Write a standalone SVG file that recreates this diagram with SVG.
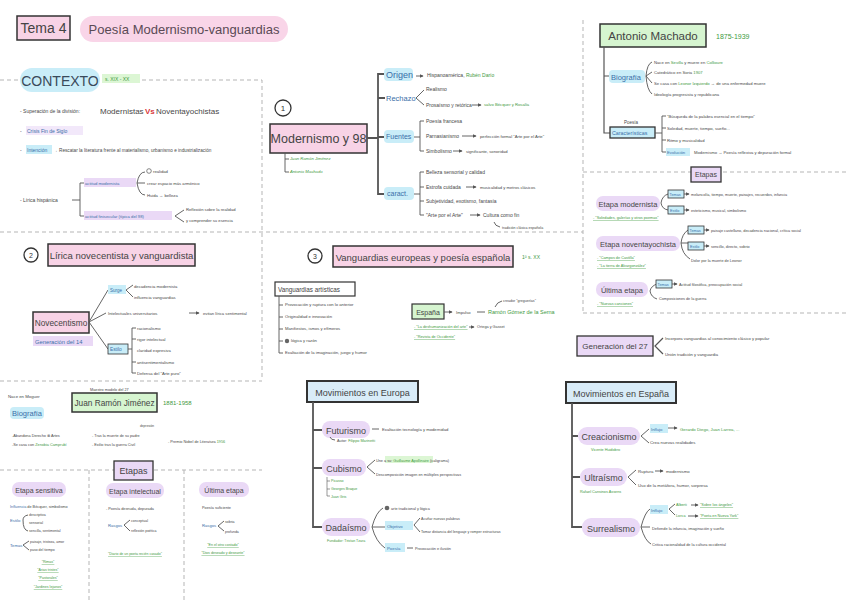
<svg xmlns="http://www.w3.org/2000/svg" width="848" height="601" viewBox="0 0 848 601">
<defs>
<style>
text{font-family:"Liberation Sans",Arial,sans-serif;fill:#474747}
.s{font-size:5px}
.xs{font-size:4.2px}
.g{fill:#3f9a3f}
.gi{fill:#3f9a3f;font-style:italic}
.u{text-decoration:underline}
.b{fill:#3a6fa8}
.dash{fill:none;stroke:#b5b5b5;stroke-width:1;stroke-dasharray:4 3}
.ln{fill:none;stroke:#555;stroke-width:0.9}
.lnb{fill:none;stroke:#555;stroke-width:1.8}
.pink{fill:#f8d3e6;stroke:#333;stroke-width:1.5}
.pill{fill:#f9d5e8}
.pur{fill:#ead9f6}
.purb{fill:#ead9f6;stroke:#333;stroke-width:1.3}
.cy{fill:#c9edf8}
.cyb{fill:#c9edf8;stroke:#333;stroke-width:0.8}
.grn{fill:#d6f5d0;stroke:#333;stroke-width:1.5}
.gh{fill:#dcf6d4}
.blu{fill:#d9ecf8;stroke:#333;stroke-width:2}
.circ{fill:#fff;stroke:#333;stroke-width:1.3}
</style>
<marker id="ar" viewBox="0 0 6 6" refX="5" refY="3" markerWidth="4" markerHeight="4" orient="auto"><path d="M0 0 L6 3 L0 6 z" fill="#555"/></marker>
</defs>

<!-- dashed section borders -->
<g id="borders">
<path class="dash" d="M0 80 H18 M142 80 H262 V380"/>
<path class="dash" d="M0 232 H583"/>
<path class="dash" d="M0 381 H262"/>
<path class="dash" d="M583 20 V313 M583 172 H848 M583 313 H848"/>
<path class="dash" d="M0 470 H262 M89 470 V601 M184 470 V601"/>
</g>

<!-- title -->
<g id="title">
<rect class="pink" x="17" y="16" width="53" height="24"/>
<text x="43.5" y="33" font-size="14" text-anchor="middle" style="fill:#444">Tema 4</text>
<rect class="pill" x="80" y="16" width="208" height="26" rx="13"/>
<text x="184" y="34" font-size="13" text-anchor="middle" style="fill:#5a4a55">Poesía Modernismo-vanguardias</text>
</g>

<!-- contexto -->
<g id="contexto">
<rect class="cy" x="20" y="68" width="80" height="24" rx="12"/>
<text x="60" y="86" font-size="14" text-anchor="middle" style="fill:#3a4a5a">CONTEXTO</text>
<rect class="gh" x="102" y="74" width="38" height="9"/>
<text x="105" y="81" class="s g">s. XIX - XX</text>
<text x="20" y="113" class="s">- Superación de la división:</text>
<text x="100" y="114" font-size="8">Modernistas</text>
<text x="145" y="114" font-size="8" font-weight="bold" style="fill:#d9383a">Vs</text>
<text x="156" y="114" font-size="8">Noventayochistas</text>
<text x="20" y="133" class="s">-</text>
<rect class="pur" x="26" y="126" width="57" height="9" opacity="0.6"/>
<text x="27" y="133" class="s b">Crisis Fin de Siglo</text>
<text x="20" y="152" class="s">-</text>
<rect class="cy" x="26" y="145" width="26" height="9"/>
<text x="27" y="152" class="s b">Intención</text>
<text x="53" y="152" font-size="4.7">→ Rescatar la literatura frente al materialismo, urbanismo e industrialización</text>
<text x="20" y="202" class="s">- Lírica hispánica</text>
<path class="ln" d="M72 200 H80 M84 183 H80 V216 H84"/>
<rect class="pur" x="84" y="178" width="52" height="9"/>
<text x="85" y="185" class="xs b">actitud modernista</text>
<path class="ln" d="M145 172 Q139 172 137 183 Q139 195 145 195 M137 183 H145"/>
<circle cx="149" cy="171" r="2.3" fill="none" stroke="#555" stroke-width="0.7"/>
<text x="153" y="173" class="xs">realidad</text>
<text x="147" y="185" class="xs">crear espacio más armónico</text>
<text x="147" y="197" class="xs">Huida → belleza</text>
<rect class="pur" x="84" y="211" width="88" height="9"/>
<text x="85" y="218" class="xs b">actitud finisecular (típica del 98)</text>
<path class="ln" d="M184 210 L175 216 L184 222"/>
<text x="186" y="211" class="xs">Reflexión sobre la realidad</text>
<text x="186" y="222" class="xs">y comprender su esencia</text>
</g>

<!-- section 1 -->
<g id="modernismo98">
<circle class="circ" cx="283" cy="108" r="8"/>
<text x="283" y="111" font-size="8" text-anchor="middle" style="fill:#333">1</text>
<rect class="pink" x="270" y="124" width="97" height="29"/>
<text x="318.5" y="143" font-size="12.5" text-anchor="middle" style="fill:#444">Modernismo y 98</text>
<path class="ln" d="M285 153 V172 H289 M285 159 H289"/>
<text x="290" y="160" class="xs gi">Juan Ramón Jiménez</text>
<text x="290" y="173" class="xs gi">Antonio Machado</text>
<path class="lnb" d="M367 138 H378 M385 74 H378 V194 H385 M378 98 H385 M378 137 H385"/>

<rect class="cy" x="384" y="68" width="29" height="13" rx="4"/>
<text x="386" y="78" font-size="9" class="b">Origen</text>
<path class="ln" d="M416 76 H423" marker-end="url(#ar)"/>
<text x="427" y="77" class="s">Hispanoamérica, <tspan class="g">Rubén Darío</tspan></text>

<text x="386" y="101" font-size="7.5" class="b">Rechazo</text>
<path class="ln" d="M424 90 L416 98 L424 105"/>
<text x="426" y="91" class="s">Realismo</text>
<text x="426" y="107" class="s">Prosaísmo y retórica</text>
<path class="ln" d="M472 105 H481" marker-end="url(#ar)"/>
<text x="484" y="106" class="xs g">salvo Bécquer y Rosalía</text>

<rect class="cy" x="384" y="130" width="30" height="13" rx="4"/>
<text x="386" y="139" font-size="7" class="b">Fuentes</text>
<path class="ln" d="M414 137 H420 M424 121 H420 V151 H424"/>
<text x="426" y="123" class="s">Poesía francesa</text>
<text x="426" y="138" class="s">Parnasianismo</text>
<path class="ln" d="M462 136 H476" marker-end="url(#ar)"/>
<text x="480" y="138" class="xs">perfección formal "Arte por el Arte"</text>
<text x="426" y="153" class="s">Simbolismo</text>
<path class="ln" d="M453 151 H462" marker-end="url(#ar)"/>
<text x="466" y="153" class="xs">significante, sonoridad</text>

<rect class="cy" x="384" y="187" width="30" height="13" rx="4"/>
<text x="387" y="196" font-size="7" class="b">caract.</text>
<path class="ln" d="M414 194 H420 M424 172 H420 V215 H424 M420 187 H424 M420 201 H424"/>
<text x="426" y="174" class="s">Belleza sensorial y calidad</text>
<text x="426" y="189" class="s">Estrofa cuidada</text>
<path class="ln" d="M466 187 H476" marker-end="url(#ar)"/>
<text x="480" y="189" class="xs">musicalidad y metros clásicos</text>
<text x="426" y="203" class="s">Subjetividad, exotismo, fantasía</text>
<text x="426" y="217" class="s">"Arte por el Arte"</text>
<path class="ln" d="M470 215 H480" marker-end="url(#ar)"/>
<text x="483" y="217" class="s">Cultura como fin</text>
<path class="ln" d="M494 222 Q495 226 500 227"/>
<text x="502" y="229" font-size="3.6">tradición clásica española</text>
</g>

<!-- Antonio Machado -->
<g id="machado">
<rect class="grn" x="600" y="24" width="106" height="23"/>
<text x="653" y="40" font-size="11.5" text-anchor="middle" style="fill:#444">Antonio Machado</text>
<text x="716" y="39" font-size="7" class="g">1875-1939</text>
<path class="lnb" style="stroke-width:1.2" d="M604 47 V133 H610 M604 76 H609"/>
<rect class="cy" x="609" y="70" width="36" height="13" rx="4"/>
<text x="611" y="80" font-size="7.5" class="b">Biografía</text>
<path class="ln" d="M652 62 Q647 64 646 76 Q647 90 652 94 M646 76 L652 72 M646 76 L652 83"/>
<text x="654" y="64" class="xs">Nace en <tspan class="g">Sevilla</tspan> y muere en <tspan class="g">Collioure</tspan></text>
<text x="654" y="74" class="xs">Catedrático en Soria <tspan class="g">1907</tspan></text>
<text x="654" y="85" class="xs">Se casa con <tspan class="g">Leonor Izquierdo</tspan> → de una enfermedad muere</text>
<text x="654" y="96" class="xs">Ideología progresista y republicana</text>
<text x="624" y="124" font-size="4.5">Poesía</text>
<rect class="cyb" x="610" y="127" width="45" height="11" style="stroke-width:1.3"/>
<text x="612" y="135" font-size="5.3" class="b">Características</text>
<path class="ln" d="M655 133 H662 M666 116 H662 V152 H666 M662 128 H666 M662 140 H666"/>
<text x="667" y="118" class="xs">"Búsqueda de la palabra esencial en el tiempo"</text>
<text x="667" y="130" class="xs">Soledad, muerte, tiempo, sueño...</text>
<text x="667" y="142" class="xs">Ritmo y musicalidad</text>
<rect class="cy" x="666" y="148" width="24" height="8"/>
<text x="667" y="154" class="xs b">Evolución</text>
<text x="694" y="154" class="xs">Modernismo → Poesía reflexiva y depuración formal</text>
</g>

<!-- Etapas Machado -->
<g id="etapas-machado">
<rect class="purb" x="691" y="167" width="30" height="15"/>
<text x="706" y="177" font-size="7" text-anchor="middle" style="fill:#444">Etapas</text>

<rect class="pur" x="596" y="196" width="64" height="15" rx="7"/>
<text x="628" y="206.5" font-size="7.5" text-anchor="middle">Etapa modernista</text>
<path class="ln" d="M668 194 Q662 196 661 203 Q662 209 668 210"/>
<rect class="cyb" x="668" y="190" width="16" height="8"/>
<text x="669.5" y="196" font-size="3.8" class="b">Temas</text>
<path class="ln" d="M684 194 H689" marker-end="url(#ar)"/>
<text x="691" y="196" font-size="3.8">melancolía, tiempo, muerte, paisajes, recuerdos, infancia</text>
<rect class="cyb" x="668" y="206" width="16" height="8"/>
<text x="670" y="212" font-size="3.8" class="b">Estilo</text>
<path class="ln" d="M684 210 H689" marker-end="url(#ar)"/>
<text x="691" y="212" font-size="3.8">esteticismo, musical, simbolismo</text>
<text x="593" y="219" font-size="3.8" class="g u">- "Soledades, galerías y otros poemas"</text>

<rect class="pur" x="596" y="236" width="84" height="15" rx="7"/>
<text x="638" y="246.5" font-size="7.5" text-anchor="middle">Etapa noventayochista</text>
<path class="ln" d="M688 230 Q682 234 681 243 Q682 254 690 259 M681 243 H688"/>
<rect class="cyb" x="688" y="226" width="16" height="8"/>
<text x="689.5" y="232" font-size="3.8" class="b">Temas</text>
<path class="ln" d="M704 230 H709" marker-end="url(#ar)"/>
<text x="711" y="232" font-size="3.8">paisaje castellano, decadencia nacional, crítica social</text>
<rect class="cyb" x="688" y="242" width="16" height="8"/>
<text x="690" y="248" font-size="3.8" class="b">Estilo</text>
<path class="ln" d="M704 246 H709" marker-end="url(#ar)"/>
<text x="711" y="248" font-size="3.8">sencillo, directo, sobrio</text>
<text x="691" y="262" font-size="3.8">Dolor por la muerte de Leonor</text>
<text x="597" y="259" font-size="3.8" class="g u">- "Campos de Castilla"</text>
<text x="597" y="267" font-size="3.8" class="g u">- "La tierra de Alvargonzález"</text>

<rect class="pur" x="596" y="282" width="52" height="15" rx="7"/>
<text x="622" y="292.5" font-size="7.5" text-anchor="middle">Última etapa</text>
<path class="ln" d="M657 284 Q651 286 650 291 Q651 297 657 299"/>
<rect class="cyb" x="656" y="280" width="16" height="8"/>
<text x="657.5" y="286" font-size="3.8" class="b">Temas</text>
<path class="ln" d="M672 284 H677" marker-end="url(#ar)"/>
<text x="679" y="286" font-size="3.8">Actitud filosófica, preocupación social</text>
<text x="659" y="300" font-size="3.8">Composiciones de la guerra</text>
<text x="597" y="305" font-size="3.8" class="g u">- "Nuevas canciones"</text>
</g>

<!-- Generación del 27 -->
<g id="gen27">
<rect class="purb" x="577" y="336" width="76" height="20"/>
<text x="615" y="349" font-size="8" text-anchor="middle" style="fill:#444">Generación del 27</text>
<path class="ln" style="stroke-width:1.2" d="M663 338 L655 346 L663 354"/>
<text x="665" y="340" class="xs">Incorpora vanguardias al conocimiento clásico y popular</text>
<text x="665" y="356" class="xs">Unión tradición y vanguardia</text>
</g>

<!-- section 2 -->
<g id="novecentismo">
<circle class="circ" cx="31" cy="255" r="7"/>
<text x="31" y="258" font-size="7" text-anchor="middle" style="fill:#333">2</text>
<rect class="pink" x="48" y="244" width="147" height="22"/>
<text x="121.5" y="259" font-size="9.5" text-anchor="middle" style="fill:#444">Lírica novecentista y vanguardista</text>
<rect class="pink" x="33" y="312" width="56" height="21"/>
<text x="61" y="326" font-size="8.3" text-anchor="middle" style="fill:#444">Novecentismo</text>
<rect class="pur" x="33" y="336" width="60" height="10"/>
<text x="35" y="343.5" font-size="5.8" class="b">Generación del 14</text>
<path class="ln" d="M89 322 L108 290 M89 322 L106 313 M89 322 L108 349"/>
<rect class="cy" x="108" y="285" width="18" height="9"/>
<text x="110" y="291.5" font-size="4.5" class="b">Surge</text>
<path class="ln" d="M133 285 L126 290 L133 297"/>
<text x="134" y="288" class="xs">decadencia modernista</text>
<text x="134" y="299" class="xs">influencia vanguardias</text>
<text x="108" y="315" class="xs">Intelectuales universitarios</text>
<path class="ln" d="M189 313 H199" marker-end="url(#ar)"/>
<text x="203" y="315" class="xs">evitan lírica sentimental</text>
<rect class="cyb" x="108" y="344" width="20" height="10"/>
<text x="110" y="351" font-size="4.8" class="b">Estilo</text>
<path class="ln" d="M128 349 H132 M136 328 H132 V373 H136 M132 339 H136 M132 362 H136"/>
<text x="137" y="330" class="xs">racionalismo</text>
<text x="137" y="341" class="xs">rigor intelectual</text>
<text x="137" y="352" class="xs">claridad expresiva</text>
<text x="137" y="364" class="xs">antisentimentalismo</text>
<text x="137" y="375" class="xs">Defensa del "Arte puro"</text>
</g>

<!-- section 3 -->
<g id="vanguardias">
<circle class="circ" cx="315" cy="256" r="7"/>
<text x="315" y="259" font-size="7" text-anchor="middle" style="fill:#333">3</text>
<rect class="pink" x="333" y="246" width="180" height="21"/>
<text x="423" y="261" font-size="9.5" text-anchor="middle" style="fill:#444">Vanguardias europeas y poesía española</text>
<text x="522" y="259" class="s g">1ª s. XX</text>
<rect x="275" y="282" width="80" height="14" fill="#fff" stroke="#333" stroke-width="1.2"/>
<text x="278" y="292" font-size="6.3" style="fill:#444">Vanguardias artísticas</text>
<path class="ln" d="M279 296 V353 H283 M279 305 H283 M279 317 H283 M279 329 H283 M279 341 H283"/>
<text x="285" y="306" class="xs">Provocación y ruptura con lo anterior</text>
<text x="285" y="318" class="xs">Originalidad e innovación</text>
<text x="285" y="330" class="xs">Manifiestos, ismos y efímeros</text>
<circle cx="287" cy="341" r="2.2" fill="#666"/>
<text x="291" y="342" class="xs">lógica y razón</text>
<text x="285" y="354" class="xs">Exaltación de la imaginación, juego y humor</text>

<rect class="grn" x="412" y="304" width="32" height="15" style="stroke-width:1.2"/>
<text x="428" y="314.5" font-size="7" text-anchor="middle" style="fill:#444">España</text>
<path class="ln" d="M444 312 H452" marker-end="url(#ar)"/>
<text x="456" y="314" class="xs">Impulso</text>
<path class="ln" d="M477 312 H485"/>
<text x="488" y="314" font-size="5.5" class="g">Ramón Gómez de la Serna</text>
<path class="ln" d="M495 307 Q497 302 502 301"/>
<text x="503" y="302" font-size="3.6">creador "greguerías"</text>
<text x="414" y="328" font-size="3.8" class="g u">- "La deshumanización del arte"</text>
<path class="ln" d="M469 327 H474" marker-end="url(#ar)"/>
<text x="477" y="328" font-size="3.8">Ortega y Gasset</text>
<text x="414" y="338" font-size="3.8" class="g u">- "Revista de Occidente"</text>
</g>

<!-- Movimientos en Europa -->
<g id="mov-europa">
<rect class="blu" x="307" y="381" width="111" height="21"/>
<text x="362.5" y="396" font-size="9" text-anchor="middle" style="fill:#444">Movimientos en Europa</text>
<path class="lnb" d="M313 402 V527 H322 M313 430 H322 M313 468 H322"/>
<rect class="pur" x="322" y="421" width="48" height="17" rx="8"/>
<text x="346" y="433.5" font-size="9" text-anchor="middle">Futurismo</text>
<path class="ln" d="M372 429 H379"/>
<text x="382" y="431" class="xs">Exaltación tecnología y modernidad</text>
<path class="ln" d="M330 437 Q331 440 335 440"/>
<text x="337" y="442" font-size="3.8">Autor: <tspan class="g">Filippo Marinetti</tspan></text>

<rect class="pur" x="322" y="459" width="44" height="17" rx="8"/>
<text x="344" y="471.5" font-size="9" text-anchor="middle">Cubismo</text>
<path class="ln" d="M375 460 L367 467 L375 474"/>
<rect class="gh" x="385" y="456" width="48" height="7"/>
<text x="376" y="461.5" font-size="3.8">Une a su: <tspan class="g">Guillaume Apollinaire</tspan> (caligrama)</text>
<text x="376" y="476" font-size="3.8">Descomposición imagen en múltiples perspectivas</text>
<path class="ln" style="stroke-width:0.6" d="M327 477 V496 H330 M327 481 H330 M327 489 H330"/>
<text x="331" y="482" font-size="3.6" class="g">Picasso</text>
<text x="331" y="490" font-size="3.6" class="g">Georges Braque</text>
<text x="331" y="498" font-size="3.6" class="g">Juan Gris</text>

<rect class="pur" x="322" y="518" width="48" height="18" rx="9"/>
<text x="346" y="531" font-size="9" text-anchor="middle">Dadaísmo</text>
<path class="ln" d="M372 527 Q376 512 383 508 M372 527 H385 M372 527 Q376 542 385 548"/>
<circle cx="387" cy="508" r="2.3" fill="#666"/>
<text x="391" y="510" font-size="3.8">arte tradicional y lógica</text>
<rect class="cy" x="385" y="521" width="28" height="9"/>
<text x="387" y="527.5" font-size="4.3" class="b">Objetivo</text>
<path class="ln" d="M420 518 L414 525 L420 532"/>
<text x="421" y="520" font-size="3.6">Acuñar nuevas palabras</text>
<text x="421" y="533" font-size="3.6">Tomar distancia del lenguaje y romper estructuras</text>
<rect class="cy" x="385" y="543" width="20" height="9"/>
<text x="387" y="549.5" font-size="4.3" class="b">Poesía</text>
<path class="ln" d="M407 548 H413"/>
<text x="415" y="549.5" font-size="3.8">Provocación e ilusión</text>
<text x="327" y="542" font-size="3.6" class="g">Fundador: Tristan Tzara</text>
</g>

<!-- Movimientos en España -->
<g id="mov-espana">
<rect class="blu" x="566" y="382" width="110" height="21"/>
<text x="621" y="397" font-size="9" text-anchor="middle" style="fill:#444">Movimientos en España</text>
<path class="lnb" d="M572 403 V527 H582 M572 436 H578 M572 477 H580"/>
<rect class="pur" x="578" y="427" width="62" height="18" rx="9"/>
<text x="609" y="440" font-size="9" text-anchor="middle">Creacionismo</text>
<path class="ln" d="M649 429 L641 436 L649 443"/>
<rect class="cy" x="650" y="424" width="18" height="9"/>
<text x="651" y="430.5" font-size="4.3" class="b">Influjo</text>
<path class="ln" d="M668 428 H677" marker-end="url(#ar)"/>
<text x="680" y="431" font-size="4.3" class="g">Gerardo Diego, Juan Larrea, ...</text>
<text x="650" y="444" font-size="4.3">Crea nuevas realidades</text>
<text x="591" y="451" font-size="3.8" class="g">Vicente Huidobro</text>

<rect class="pur" x="580" y="468" width="47" height="18" rx="9"/>
<text x="603.5" y="481" font-size="9" text-anchor="middle">Ultraísmo</text>
<path class="ln" d="M636 470 L628 477 L636 485"/>
<text x="638" y="473" font-size="4.3">Ruptura</text>
<path class="ln" d="M655 471 H663" marker-end="url(#ar)"/>
<text x="666" y="473" font-size="4.3">modernismo</text>
<text x="638" y="487" font-size="4.3">Uso de la metáfora, humor, sorpresa</text>
<text x="580" y="493" font-size="3.8" class="g">Rafael Cansinos Assens</text>

<rect class="pur" x="582" y="518" width="58" height="19" rx="9"/>
<text x="611" y="531.5" font-size="9" text-anchor="middle">Surrealismo</text>
<path class="ln" d="M641 527 Q645 512 650 509 M641 527 H650 M641 527 Q645 541 651 544"/>
<rect class="cy" x="650" y="505" width="18" height="9"/>
<text x="651" y="511.5" font-size="4.3" class="b">Influjo</text>
<path class="ln" d="M675 504 L669 509 L675 515"/>
<text x="676" y="506" font-size="3.8" class="g">Alberti</text>
<path class="ln" d="M691 505 H698" marker-end="url(#ar)"/>
<text x="700" y="506" font-size="3.8" class="g u">"Sobre los ángeles"</text>
<text x="676" y="517" font-size="3.8" class="g">Lorca</text>
<path class="ln" d="M688 516 H698" marker-end="url(#ar)"/>
<text x="700" y="517" font-size="3.8" class="g u">"Poeta en Nueva York"</text>
<text x="652" y="530" font-size="3.9">Defiende la infancia, imaginación y sueño</text>
<text x="652" y="546" font-size="3.9">Critica racionalidad de la cultura occidental</text>
</g>

<!-- Juan Ramón Jiménez -->
<g id="jrj">
<text x="90" y="391" font-size="3.8">Maestro modelo del 27</text>
<text x="8" y="398" font-size="4.3">Nace en Moguer</text>
<rect class="grn" x="72" y="393" width="85" height="19"/>
<text x="114.5" y="406" font-size="8.3" text-anchor="middle" style="fill:#444">Juan Ramón Jiménez</text>
<text x="163" y="405" font-size="6" class="g">1881-1958</text>
<rect class="cy" x="10" y="407" width="34" height="12" rx="4"/>
<text x="12" y="416" font-size="7.5" class="b">Biografía</text>
<text x="12" y="437" font-size="3.8">-Abandona Derecho ⊗ Artes</text>
<text x="12" y="446" font-size="3.8">-Se casa con <tspan class="g">Zenobia Camprubí</tspan></text>
<text x="92" y="437" font-size="3.8">- Tras la muerte de su padre</text>
<text x="140" y="427" font-size="3.2">depresión</text>
<text x="92" y="446" font-size="3.8">- Exilio tras la guerra Civil</text>
<text x="168" y="443" font-size="3.8">- Premio Nobel de Literatura <tspan class="g">1956</tspan></text>
<rect class="purb" x="114" y="461" width="39" height="19"/>
<text x="133.5" y="474" font-size="9" text-anchor="middle" style="fill:#444">Etapas</text>

<rect class="pur" x="12" y="482" width="54" height="15" rx="7"/>
<text x="39" y="492.5" font-size="7" text-anchor="middle">Etapa sensitiva</text>
<text x="10" y="508" font-size="3.8"><tspan class="b">Influencia</tspan> de Bécquer, simbolismo</text>
<text x="10" y="522" font-size="4.2" class="b">Estilo</text>
<path class="ln" d="M28 515 Q23 516 23 520 Q23 530 28 531"/>
<text x="29" y="516" font-size="3.5">descriptiva</text>
<text x="29" y="524" font-size="3.5">sensorial</text>
<text x="29" y="532" font-size="3.5">sencilla, sentimental</text>
<text x="10" y="547" font-size="4.2" class="b">Temas</text>
<path class="ln" d="M29 541 L23 545 L29 550"/>
<text x="30" y="543" font-size="3.5">paisaje, tristeza, amor</text>
<text x="30" y="551" font-size="3.5">paso del tiempo</text>
<text x="48" y="563" font-size="3.6" class="g u" text-anchor="middle">"Rimas"</text>
<text x="48" y="571" font-size="3.6" class="g u" text-anchor="middle">"Arias tristes"</text>
<text x="48" y="579" font-size="3.6" class="g u" text-anchor="middle">"Pastorales"</text>
<text x="48" y="588" font-size="3.6" class="g u" text-anchor="middle">"Jardines lejanos"</text>

<rect class="pur" x="106" y="483" width="58" height="15" rx="7"/>
<text x="135" y="493.5" font-size="7" text-anchor="middle">Etapa intelectual</text>
<text x="106" y="510" font-size="3.8">- Poesía desnuda, depurada</text>
<text x="108" y="527" font-size="4.2" class="b">Rasgos</text>
<path class="ln" d="M130 520 L124 525 L130 531"/>
<text x="131" y="522" font-size="3.5">conceptual</text>
<text x="131" y="532" font-size="3.5">reflexión poética</text>
<text x="135" y="555" font-size="3.5" class="g u" text-anchor="middle">"Diario de un poeta recién casado"</text>

<rect class="pur" x="199" y="482" width="50" height="15" rx="7"/>
<text x="224" y="492.5" font-size="7" text-anchor="middle">Última etapa</text>
<text x="202" y="509" font-size="3.8">Poesía suficiente</text>
<text x="202" y="527" font-size="4.2" class="b">Rasgos</text>
<path class="ln" d="M224 521 L218 526 L224 531"/>
<text x="225" y="523" font-size="3.5">sobria</text>
<text x="225" y="533" font-size="3.5">profunda</text>
<text x="223" y="546" font-size="3.6" class="g u" text-anchor="middle">"En el otro costado"</text>
<text x="223" y="554" font-size="3.6" class="g u" text-anchor="middle">"Dios deseado y deseante"</text>
</g>
</svg>
